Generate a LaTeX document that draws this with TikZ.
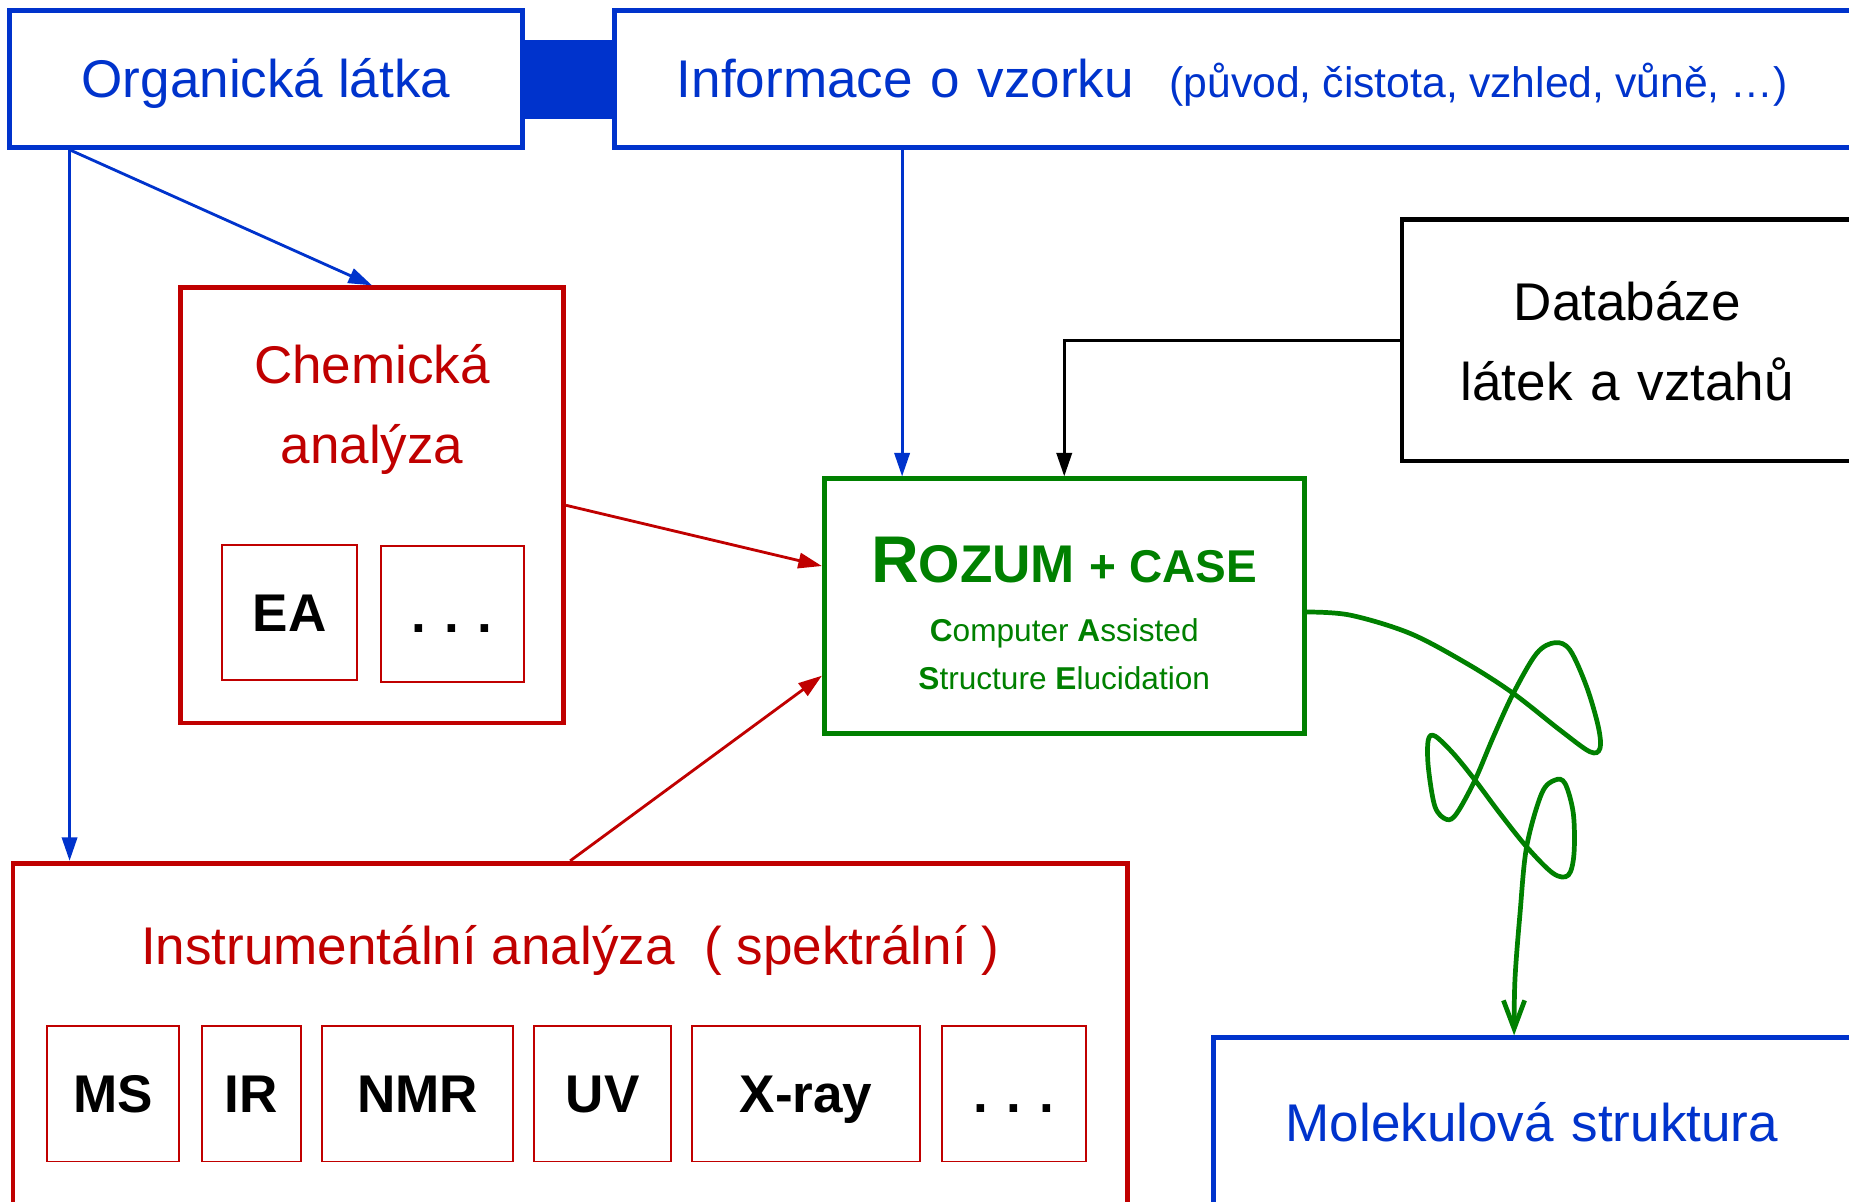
\documentclass[tikz,border=0pt]{standalone}
\usepackage{fontspec}
\setmainfont{Liberation Sans}
\usetikzlibrary{arrows.meta}

\definecolor{modra}{RGB}{0,51,204}
\definecolor{cervena}{RGB}{192,0,0}
\definecolor{zelena}{RGB}{0,128,0}

\newcommand{\tecky}{.\hspace{7.75pt}.\hspace{7.75pt}.}

\tikzset{
	ramecek/.style={draw, line width=2pt, inner sep=0pt},
	modry/.style={ramecek, draw=modra, text=modra},
	cerveny/.style={ramecek, draw=cervena, text=cervena},
	jeden/.style={text height=16pt, text depth=0pt},
	metoda/.style={draw=cervena, line width=0.8pt, inner sep=0pt, minimum height=57.5pt,
		text height=16pt, text depth=0pt, font=\fontsize{22.5}{27}\selectfont\bfseries},
	sipka/.style={line width=1.2pt, -{Triangle[length=10pt,width=6.5pt]}}
}

\begin{document}
\begin{tikzpicture}[x=0.5pt, y=-0.5pt, font=\fontsize{22.5}{34}\selectfont]
	\useasboundingbox (0,0) rectangle (1568,1019);
	% horni rada
	\node[modry, jeden, minimum width=217.5pt, minimum height=58pt] (org) at (225.5,67) {Organická látka};
	\node[modry, jeden, anchor=west, minimum height=58pt, inner xsep=26.5pt, text width=510pt, align=left] (info) at (519,67)
		{Informace o vzorku\hspace{15pt}{\fontsize{18.1}{22}\selectfont\frenchspacing\spaceskip=0.26em(původ, čistota, vzhled, vůně, …)}};
	\draw[modra, line width=33.5pt] (org.east) -- (info.west);
	\node[ramecek, anchor=west, minimum height=102.5pt, text width=196pt, align=center] (db) at (1187,288.5)
		{\rule{0pt}{23.5pt}Databáze\hspace*{5pt}\null\\látek a vztahů\hspace*{5pt}\null\rule[-6pt]{0pt}{0pt}};
	% CASE
	\node[ramecek, draw=zelena, text=zelena, minimum width=203.5pt, minimum height=108pt, align=center,
		font=\fontsize{13.4}{20.5}\selectfont] (rozum) at (902.5,514)
		{{\bfseries\rule{0pt}{25.5pt}\fontsize{28}{28}\selectfont R\fontsize{22.5}{28}\selectfont OZUM \fontsize{19.5}{28}\selectfont + CASE}\\[4.5pt]
		\textbf{C}omputer \textbf{A}ssisted\\
		\textbf{S}tructure \textbf{E}lucidation};
	% chemicka analyza
	\node[cerveny, minimum width=162.5pt, minimum height=184.5pt] (chem) at (315.5,428.5) {};
	\node[text=cervena, align=center, inner sep=0pt] (chemnadpis) at (315.5,347)
		{\rule{0pt}{18pt}Chemická\\analýza\rule[-6pt]{0pt}{0pt}};
	\node[metoda, minimum width=57.5pt] (ea) at (245.5,519.5) {EA};
	\node[metoda, minimum width=60.5pt] (chemdalsi) at (383.5,520.5) {\tecky};
	% instrumentalni analyza
	\node[cerveny, anchor=north west, minimum width=472.5pt, text height=43pt, text depth=112pt] (instr) at (9,730)
		{Instrumentální analýza\ \ ( spektrální )};
	\node[metoda, minimum width=56pt] (ms) at (96,927.5) {MS};
	\node[metoda, minimum width=42pt] (ir) at (213,927.5) {IR};
	\node[metoda, minimum width=81pt] (nmr) at (354,927.5) {NMR};
	\node[metoda, minimum width=58pt] (uv) at (511,927.5) {UV};
	\node[metoda, minimum width=96.5pt] (xray) at (683.5,927.5) {X-ray};
	\node[metoda, minimum width=61pt] (instrdalsi) at (860,927.5) {\tecky};
	% vysledek
	\node[modry, anchor=north west, text width=276pt, align=center, text height=44pt, text depth=30pt] (mol) at (1027,878)
		{Molekulová struktura\hspace*{6pt}};

	% spojnice
	\draw[modra, sipka] ([xshift=26.5pt]org.south west) -- ([xshift=25pt]instr.north west);
	\draw[modra, sipka] ([xshift=26.5pt]org.south west) -- (chem.north);
	\coordinate (rozumvstup) at ([xshift=34pt]rozum.north west);
	\draw[modra, sipka] (info.south -| rozumvstup) -- (rozumvstup);
	\draw[sipka] (db.west) -| (rozum.north);
	\draw[cervena, sipka] (chem.east) -- ([yshift=17pt]rozum.west);
	\draw[cervena, sipka] (instr.north) -- ([yshift=-29.5pt]rozum.west);
	\coordinate (zacatek) at ([yshift=-2.5pt]rozum.east);
	\coordinate (konec) at ([xshift=128.5pt]mol.north west);
	\draw[zelena, line width=2pt, line cap=round, -{Straight Barb[length=12pt,width=9pt]}]
		plot[smooth, tension=0.55] coordinates {(zacatek) (1144.8,521.6) (1195.7,537.1) (1243.8,562.6)
		(1283.3,588.0) (1322.9,619.1) (1348.3,637.5) (1356.8,634.7) (1355.4,616.3) (1345.5,582.4)
		(1331.4,551.3) (1318.7,545.0) (1303.1,554.1) (1283.3,588.0) (1266.4,624.8) (1250.8,661.5)
		(1235.3,689.8) (1226.8,694.9) (1216.9,684.1) (1211.2,650.2) (1211.2,627.6) (1216.9,624.2)
		(1232.4,638.9) (1250.8,661.5) (1272.0,689.8) (1294.6,718.1) (1317.2,740.7) (1330.0,742.1)
		(1334.8,723.7) (1334.2,689.8) (1327.2,664.4) (1318.7,661.5) (1307.4,672.8) (1294.6,718.1)
		(1289.0,774.6) (1284.7,831.1) (konec)};
\end{tikzpicture}
\end{document}
